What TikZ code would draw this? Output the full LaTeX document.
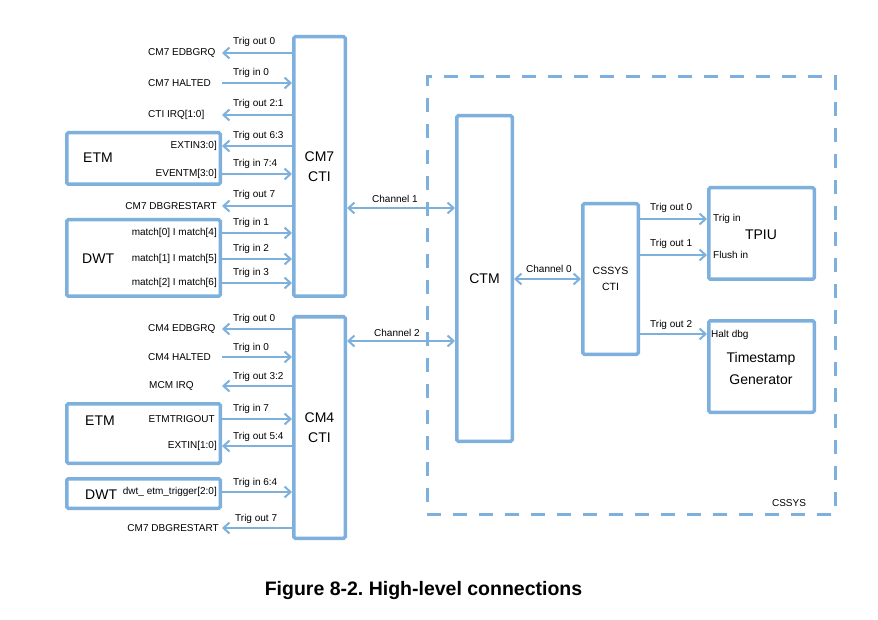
\documentclass[tikz,border=0pt]{standalone}
\usepackage{fontspec}
\setmainfont{Liberation Sans}
\usetikzlibrary{arrows.meta}
\definecolor{lb}{RGB}{125,176,220}
\frenchspacing
\begin{document}
\begin{tikzpicture}[x=1pt,y=-1pt,
  box/.style={draw=lb,line width=3.5pt,rounded corners=1.5pt,inner sep=0pt},
  dashbox/.style={draw=lb,line width=3pt,dash pattern=on 14pt off 12pt,inner sep=0pt},
  sig/.style={draw=lb,line width=2pt,-{Straight Barb[length=6pt,width=11pt]}},
  bisig/.style={draw=lb,line width=2pt,{Straight Barb[length=6pt,width=11pt]}-{Straight Barb[length=6pt,width=11pt]}},
  lbl/.style={font=\fontsize{10}{12}\selectfont,inner sep=0pt},
  trig/.style={lbl,anchor=base west},
  big/.style={font=\fontsize{14}{20}\selectfont,align=center},
  ttl/.style={big,inner sep=0pt,anchor=west}
]
\useasboundingbox (0,0) rectangle (878,620);

% ---------- boxes ----------
\node[dashbox,minimum width=408pt,minimum height=437pt] (cssysbox) at (631,295.5) {};
\node[box,big,minimum width=51.5pt,minimum height=259.5pt] (cm7) at (319.5,166.5) {CM7\\CTI};
\node[box,big,minimum width=51.5pt,minimum height=221.5pt] (cm4) at (319.5,427.5) {CM4\\CTI};
\node[box,minimum width=153.5pt,minimum height=51.5pt] (etm7) at (143.5,158.5) {};
\node[box,minimum width=153.5pt,minimum height=76.5pt] (dwt7) at (143.5,258) {};
\node[box,minimum width=153.5pt,minimum height=59.5pt] (etm4) at (143.5,433.5) {};
\node[box,minimum width=153.5pt,minimum height=29.5pt] (dwt4) at (143.5,493.5) {};
\node[box,big,minimum width=55.5pt,minimum height=325.5pt] (ctm) at (484.5,278.5) {CTM};
\node[box,font=\fontsize{10.5}{16}\selectfont,align=center,minimum width=55.5pt,minimum height=150.5pt] (cscti) at (610.5,279) {CSSYS\\CTI};
\node[box,minimum width=105.5pt,minimum height=91.5pt] (tpiu) at (761.5,233.5) {};
\node[box,minimum width=105.5pt,minimum height=91.5pt] (tsg) at (761.5,366.5) {};

% box titles
\node[ttl] (etm7t) at (83,158) {ETM};
\node[ttl] (dwt7t) at (82,259) {DWT};
\node[ttl] (etm4t) at (85,421) {ETM};
\node[ttl] (dwt4t) at (85,495) {DWT};
\node[big] (tpiut) at (761,235) {TPIU};
\node[big,font=\fontsize{14}{22}\selectfont] (tsgt) at (761,368) {Timestamp\\Generator};
\node[lbl] (cssyst) at (789,503) {CSSYS};

% ---------- CM7 CTI signals ----------
\coordinate (a1) at (222,53);
\coordinate (a2) at (222,83);
\coordinate (a3) at (222,115);
\coordinate (a6) at (222,206);
\node[lbl,anchor=west] (n1) at (148,53) {CM7 EDBGRQ};
\node[lbl,anchor=west] (n2) at (148,83) {CM7 HALTED};
\node[lbl,anchor=west] (n3) at (148,115) {CTI IRQ[1:0]};
\node[lbl,anchor=east] (n4) at (217,146) {EXTIN3:0]};
\node[lbl,anchor=east] (n5) at (217,174) {EVENTM[3:0]};
\node[lbl,anchor=east] (n6) at (217,206) {CM7 DBGRESTART};
\node[lbl,anchor=east] (n7) at (217,233) {match[0] I match[4]};
\node[lbl,anchor=east] (n8) at (217,259) {match[1] I match[5]};
\node[lbl,anchor=east] (n9) at (217,283) {match[2] I match[6]};

\draw[sig] (cm7.west |- a1) -- (a1);
\draw[sig] (a2) -- (cm7.west |- a2);
\draw[sig] (cm7.west |- a3) -- (a3);
\draw[sig] (cm7.west |- 0,146) -- (etm7.east |- 0,146);
\draw[sig] (etm7.east |- 0,174) -- (cm7.west |- 0,174);
\draw[sig] (cm7.west |- a6) -- (a6);
\draw[sig] (dwt7.east |- 0,233) -- (cm7.west |- 0,233);
\draw[sig] (dwt7.east |- 0,259) -- (cm7.west |- 0,259);
\draw[sig] (dwt7.east |- 0,283) -- (cm7.west |- 0,283);

\node[trig] (t1) at (233,45) {Trig out 0};
\node[trig] (t2) at (233,76) {Trig in 0};
\node[trig] (t3) at (233,107) {Trig out 2:1};
\node[trig] (t4) at (233,139) {Trig out 6:3};
\node[trig] (t5) at (233,167) {Trig in 7:4};
\node[trig] (t6) at (233,198) {Trig out 7};
\node[trig] (t7) at (233,226) {Trig in 1};
\node[trig] (t8) at (233,252) {Trig in 2};
\node[trig] (t9) at (233,276) {Trig in 3};

% ---------- CM4 CTI signals ----------
\coordinate (b1) at (222,329);
\coordinate (b2) at (222,357);
\coordinate (b3) at (222,386);
\coordinate (b7) at (222,528);
\node[lbl,anchor=west] (m1) at (148,329) {CM4 EDBGRQ};
\node[lbl,anchor=west] (m2) at (148,357) {CM4 HALTED};
\node[lbl,anchor=west] (m3) at (149,386) {MCM IRQ};
\node[lbl,anchor=east] (m4) at (215,419) {ETMTRIGOUT};
\node[lbl,anchor=east] (m5) at (217,446) {EXTIN[1:0]};
\node[lbl,anchor=east] (m6) at (217,492) {dwt\_ etm\_trigger[2:0]};
\node[lbl,anchor=east] (m7) at (219,528) {CM7 DBGRESTART};

\draw[sig] (cm4.west |- b1) -- (b1);
\draw[sig] (b2) -- (cm4.west |- b2);
\draw[sig] (cm4.west |- b3) -- (b3);
\draw[sig] (etm4.east |- 0,419) -- (cm4.west |- 0,419);
\draw[sig] (cm4.west |- 0,446) -- (etm4.east |- 0,446);
\draw[sig] (dwt4.east |- 0,492) -- (cm4.west |- 0,492);
\draw[sig] (cm4.west |- b7) -- (b7);

\node[trig] (u1) at (233,321) {Trig out 0};
\node[trig] (u2) at (233,350) {Trig in 0};
\node[trig] (u3) at (233,379) {Trig out 3:2};
\node[trig] (u4) at (233,411) {Trig in 7};
\node[trig] (u5) at (233,439) {Trig out 5:4};
\node[trig] (u6) at (233,485) {Trig in 6:4};
\node[trig] (u7) at (235,521) {Trig out 7};

% ---------- channels ----------
\draw[bisig] (cm7.east |- 0,208) -- (ctm.west |- 0,208);
\draw[bisig] (cm4.east |- 0,341) -- (ctm.west |- 0,341);
\draw[bisig] (ctm.east |- 0,279) -- (cscti.west |- 0,279);
\node[lbl,anchor=base] (c1) at (395,203) {Channel 1};
\node[lbl,anchor=base] (c2) at (397,337) {Channel 2};
\node[lbl,anchor=base] (c0) at (549,273) {Channel 0};

% ---------- CSSYS CTI outputs ----------
\draw[sig] (cscti.east |- 0,219) -- (tpiu.west |- 0,219);
\draw[sig] (cscti.east |- 0,255) -- (tpiu.west |- 0,255);
\draw[sig] (cscti.east |- 0,334) -- (tsg.west |- 0,334);
\node[trig] (v1) at (650,211) {Trig out 0};
\node[trig] (v2) at (650,247) {Trig out 1};
\node[trig] (v3) at (650,327) {Trig out 2};
\node[lbl,anchor=west] (p1) at (713,219) {Trig in};
\node[lbl,anchor=west] (p2) at (713,255) {Flush in};
\node[lbl,anchor=west] (p3) at (711,335) {Halt dbg};

% ---------- caption ----------
\node[font=\fontsize{19.5}{23}\selectfont\bfseries] (cap) at (423.5,590) {Figure 8-2. High-level connections};
\end{tikzpicture}
\end{document}
